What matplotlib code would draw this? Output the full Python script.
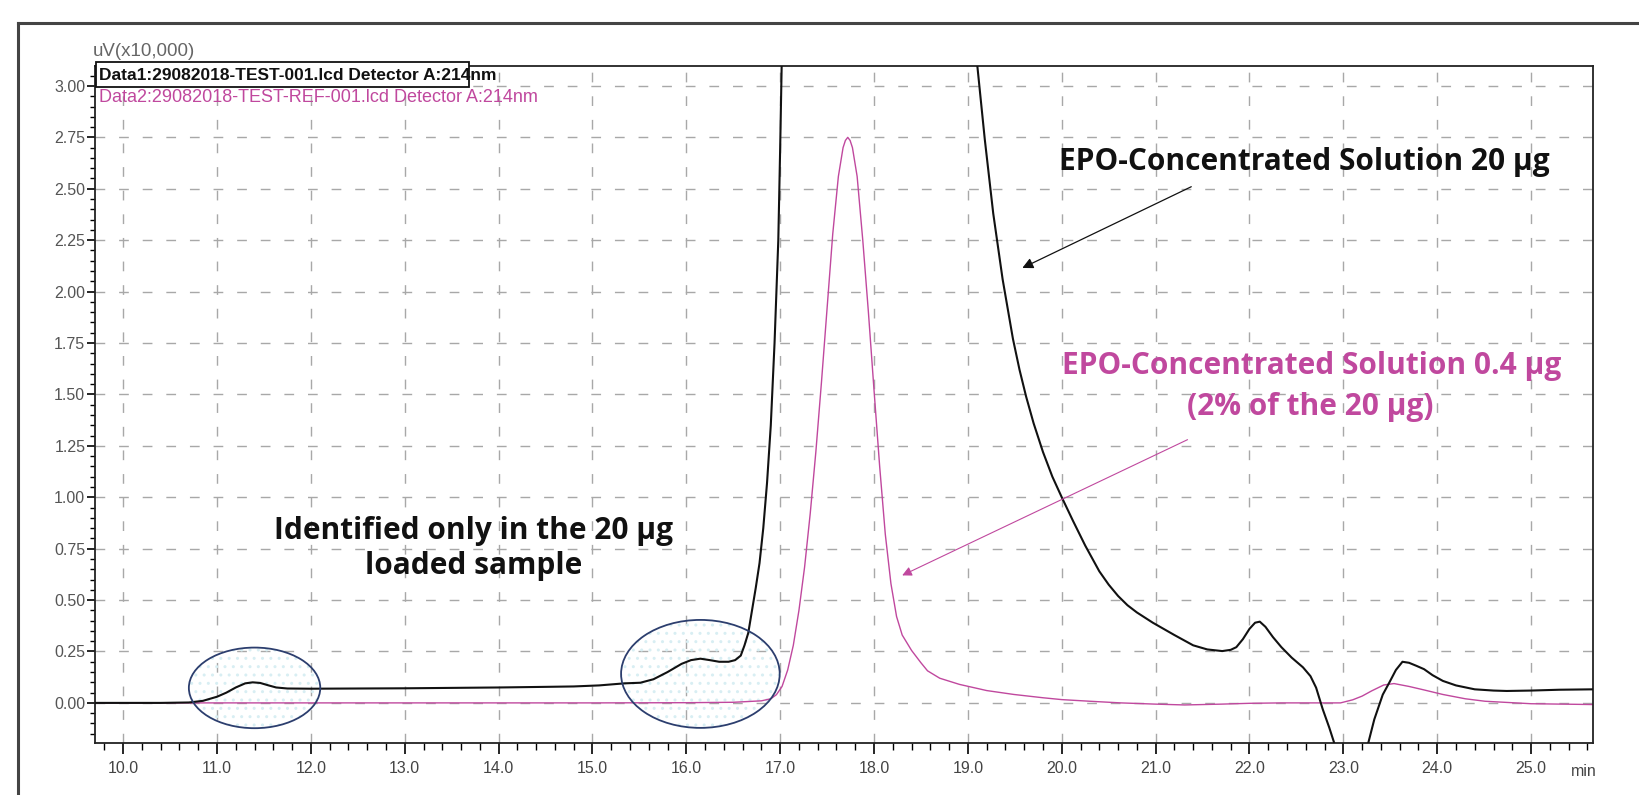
import numpy as np
import matplotlib
matplotlib.use("Agg")
import matplotlib.pyplot as plt
from matplotlib.patches import Ellipse, Rectangle
from matplotlib.lines import Line2D
from matplotlib.ticker import MultipleLocator, FormatStrFormatter

# Data1: 20 ug load (black), retention time in min, signal in uV x10,000
time_1 = [9.70, 10.00, 10.40, 10.70, 10.85, 11.00, 11.10, 11.20, 11.30, 11.38,
          11.46, 11.55, 11.63, 11.75, 12.00, 12.50, 13.00, 13.50, 14.00, 14.50,
          14.80, 15.07, 15.34, 15.51, 15.65, 15.80, 15.95, 16.05, 16.15, 16.25,
          16.35, 16.45, 16.52, 16.58, 16.62, 16.66, 16.70, 16.74, 16.78, 16.82,
          16.86, 16.90, 16.94, 16.98, 17.00, 17.02, 17.10, 17.40, 17.75, 18.20,
          18.70, 19.00, 19.10, 19.18, 19.27, 19.37, 19.48, 19.55, 19.62, 19.70,
          19.80, 19.90, 20.00, 20.12, 20.25, 20.40, 20.50, 20.60, 20.70, 20.80,
          20.97, 21.20, 21.40, 21.55, 21.71, 21.80, 21.86, 21.93, 22.00, 22.06,
          22.11, 22.17, 22.25, 22.34, 22.45, 22.57, 22.65, 22.71, 22.78, 22.85,
          22.91, 23.00, 23.10, 23.20, 23.26, 23.33, 23.42, 23.49, 23.56, 23.63,
          23.70, 23.78, 23.86, 23.95, 24.06, 24.20, 24.40, 24.60, 24.74, 25.00,
          25.30, 25.66]
signal_1 = [0.000, 0.000, 0.000, 0.002, 0.010, 0.030, 0.050, 0.075, 0.095, 0.100,
            0.097, 0.085, 0.075, 0.070, 0.069, 0.070, 0.071, 0.073, 0.075, 0.078,
            0.080, 0.085, 0.095, 0.098, 0.115, 0.150, 0.190, 0.208, 0.215, 0.208,
            0.200, 0.200, 0.208, 0.230, 0.280, 0.340, 0.450, 0.560, 0.680, 0.850,
            1.070, 1.350, 1.750, 2.250, 2.700, 3.200, 4.500, 7.000, 8.200, 7.000,
            4.800, 3.500, 3.100, 2.740, 2.380, 2.060, 1.770, 1.620, 1.490, 1.360,
            1.220, 1.100, 1.000, 0.885, 0.765, 0.640, 0.575, 0.520, 0.475, 0.440,
            0.390, 0.330, 0.280, 0.260, 0.252, 0.258, 0.271, 0.310, 0.360, 0.390,
            0.395, 0.370, 0.320, 0.271, 0.220, 0.173, 0.130, 0.074, -0.030, -0.120,
            -0.205, -0.350, -0.400, -0.300, -0.205, -0.080, 0.040, 0.099, 0.160, 0.200,
            0.195, 0.180, 0.164, 0.135, 0.107, 0.085, 0.066, 0.060, 0.058, 0.060,
            0.064, 0.066]

# Data2: 0.4 ug load (magenta)
time_2 = [9.70, 11.00, 12.00, 13.00, 14.00, 15.00, 16.00, 16.50, 16.80, 16.90,
          16.96, 17.02, 17.08, 17.14, 17.20, 17.26, 17.32, 17.38, 17.44, 17.50,
          17.56, 17.62, 17.67, 17.695, 17.72, 17.745, 17.77, 17.82, 17.88, 17.94,
          18.00, 18.06, 18.12, 18.18, 18.24, 18.30, 18.40, 18.50, 18.57, 18.70,
          18.91, 19.20, 19.49, 19.80, 20.00, 20.30, 20.63, 21.00, 21.31, 21.70,
          22.00, 22.34, 22.70, 22.97, 23.10, 23.20, 23.30, 23.43, 23.54, 23.70,
          23.86, 24.06, 24.30, 24.51, 25.00, 25.66]
signal_2 = [0.000, 0.000, 0.000, 0.000, 0.000, 0.000, 0.001, 0.003, 0.010, 0.020,
            0.040, 0.080, 0.160, 0.280, 0.450, 0.660, 0.920, 1.220, 1.560, 1.920,
            2.280, 2.560, 2.700, 2.735, 2.750, 2.735, 2.700, 2.560, 2.250, 1.900,
            1.520, 1.150, 0.820, 0.580, 0.420, 0.330, 0.255, 0.195, 0.156, 0.120,
            0.090, 0.060, 0.041, 0.025, 0.016, 0.008, 0.000, -0.006, -0.010, -0.006,
            -0.002, 0.000, 0.000, 0.000, 0.015, 0.033, 0.058, 0.087, 0.094, 0.080,
            0.063, 0.041, 0.020, 0.008, -0.004, -0.008]

x_ticks = [10.0, 11.0, 12.0, 13.0, 14.0, 15.0, 16.0, 17.0, 18.0, 19.0, 20.0,
           21.0, 22.0, 23.0, 24.0, 25.0]
legend_1 = "Data1:29082018-TEST-001.lcd Detector A:214nm"
legend_2 = "Data2:29082018-TEST-REF-001.lcd Detector A:214nm"
y_unit = "uV(x10,000)"

BLACK = "#111111"
PINK = "#c0489e"
W, H = 1640, 795

fig = plt.figure(figsize=(W / 100, H / 100), dpi=100)
ax = fig.add_axes([95 / W, 1 - 743 / H, (1593 - 95) / W, (743 - 66) / H])
ax.set_xlim(9.70, 25.66)
ax.set_ylim(-0.195, 3.097)

# grid
for v in x_ticks:
    ax.axvline(v, color="#a8a8a8", lw=1.0, ls=(0, (7, 10)), zorder=0)
for v in np.arange(0, 3.01, 0.25):
    ax.axhline(v, color="#a8a8a8", lw=1.0, ls=(0, (7, 10)), zorder=0)

# regions of interest
for cx, cy, w, h in [(11.40, 0.073, 1.40, 0.392), (16.15, 0.141, 1.69, 0.525)]:
    ax.add_patch(Ellipse((cx, cy), w, h, facecolor="none", edgecolor="#d8eef3",
                         hatch="..", lw=0, zorder=1))
    ax.add_patch(Ellipse((cx, cy), w, h, facecolor="none", edgecolor="#2c3e6e",
                         lw=1.3, zorder=4))

ax.plot(time_2, signal_2, color=PINK, lw=1.0, zorder=2)
ax.plot(time_1, signal_1, color=BLACK, lw=1.5, zorder=3)

ax.xaxis.set_major_locator(MultipleLocator(1.0))
ax.xaxis.set_minor_locator(MultipleLocator(0.2))
ax.yaxis.set_major_locator(MultipleLocator(0.25))
ax.yaxis.set_minor_locator(MultipleLocator(0.05))
ax.xaxis.set_major_formatter(FormatStrFormatter("%.1f"))
ax.yaxis.set_major_formatter(FormatStrFormatter("%.2f"))
ax.set_xticks(x_ticks)
ax.tick_params(axis="x", which="major", length=8, width=1.2, direction="out",
               labelsize=11.5, labelcolor="#444444", pad=5)
ax.tick_params(axis="x", which="minor", length=5, width=1.0, direction="out")
ax.tick_params(axis="y", which="major", length=6, width=1.2, direction="out",
               labelsize=11.5, labelcolor="#555555", pad=1)
ax.tick_params(axis="y", which="minor", length=3.5, width=1.0, direction="out")
for lab in ax.get_xticklabels() + ax.get_yticklabels():
    lab.set_fontfamily("Liberation Sans")
for s in ax.spines.values():
    s.set_linewidth(1.3)
    s.set_color("#222222")

ax.text(1597 / W, 1 - 771 / H, "min", transform=fig.transFigure, ha="right",
        va="center", fontsize=11.5, color="#444444", family="Liberation Sans")
fig.text(93 / W, 1 - 51 / H, y_unit, ha="left", va="center", fontsize=13.5,
         color="#666666", family="Liberation Sans")

# data file legend
fig.patches.append(Rectangle((96 / W, 1 - 87 / H), (469 - 96) / W, 25 / H,
                             transform=fig.transFigure, facecolor="white",
                             edgecolor="#111111", lw=1.3, zorder=5))
fig.text(99 / W, 1 - 75 / H, legend_1, ha="left", va="center", fontsize=12.5,
         fontweight="bold", color="#111111", family="Liberation Sans", zorder=6)
fig.text(99 / W, 1 - 97 / H, legend_2, ha="left", va="center", fontsize=13,
         color=PINK, family="Liberation Sans", zorder=6)

# outer frame
fig.add_artist(Line2D([18 / W, 1.0], [1 - 23 / H, 1 - 23 / H], color="#444444", lw=2.2))
fig.add_artist(Line2D([18 / W, 18 / W], [1 - 23 / H, 0.0], color="#444444", lw=2.2))

# annotations
afont = dict(family="Open Sans", fontweight="bold", fontsize=21.5)
ax.text(22.58, 2.63, "EPO-Concentrated Solution 20 µg", ha="center", va="center",
        color="#111111", **afont)
ax.annotate("", xy=(19.58, 2.115), xytext=(21.38, 2.51),
            arrowprops=dict(arrowstyle="-|>", color="#111111", lw=0.9,
                            mutation_scale=16, shrinkA=0, shrinkB=0))
ax.text(22.66, 1.64, "EPO-Concentrated Solution 0.4 µg", ha="center", va="center",
        color=PINK, **afont)
ax.text(22.65, 1.44, "(2% of the 20 µg)", ha="center", va="center",
        color=PINK, **afont)
ax.annotate("", xy=(18.30, 0.62), xytext=(21.34, 1.28),
            arrowprops=dict(arrowstyle="-|>", color=PINK, lw=0.8,
                            mutation_scale=14, shrinkA=0, shrinkB=0))
ax.text(13.73, 0.835, "Identified only in the 20 µg", ha="center", va="center",
        color="#111111", **afont)
ax.text(13.73, 0.665, "loaded sample", ha="center", va="center",
        color="#111111", **afont)

fig.savefig("out.png", dpi=100, facecolor="white")
